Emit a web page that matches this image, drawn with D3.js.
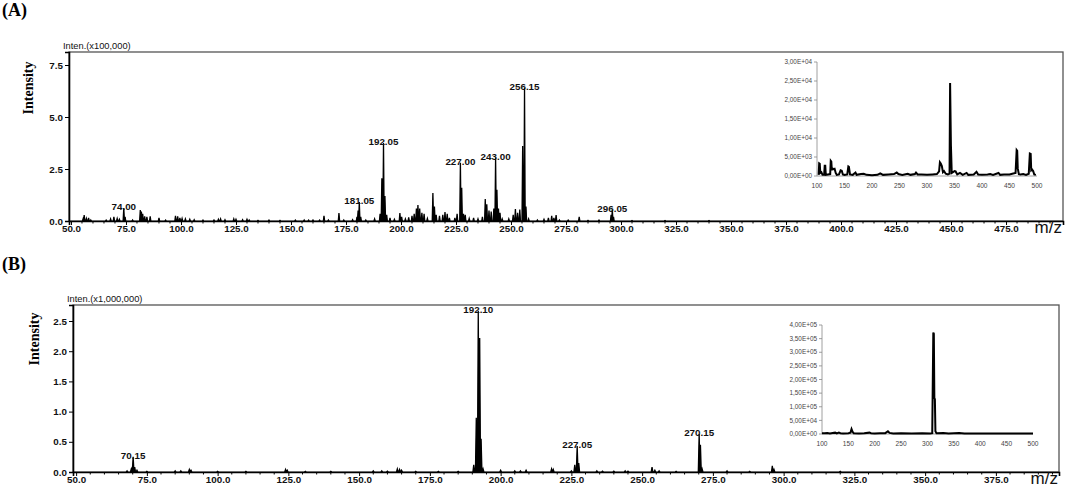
<!DOCTYPE html>
<html><head><meta charset="utf-8">
<script src="https://cdn.jsdelivr.net/npm/d3@7"></script>
<style>
html,body{margin:0;padding:0;background:#fff;}
svg text{font-family:"Liberation Sans",Arial,sans-serif;}
</style></head>
<body>
<svg id="c" width="1065" height="488"></svg>
<script>
// ---------- DATA ----------
// Panel A main spectrum: [m/z, intensity (x100,000)]
const peaksA = [
[55.5,0.1],[56,0.29],[57,0.12],[58,0.15],[59,0.05],[66,0.04],[68,0.1],[69.5,0.2],[71,0.12],[72,0.08],
[74,0.62],[74.6,0.2],[78,0.05],[81.5,0.53],[82,0.45],[82.6,0.35],[83.5,0.22],[84.5,0.2],[86,0.22],[90,0.15],
[93,0.04],[97.5,0.25],[98.5,0.22],[99.5,0.15],[100.5,0.12],[102,0.1],[104,0.08],[106,0.06],[110,0.04],[115,0.05],
[117,0.08],[118,0.1],[120,0.06],[124,0.1],[125,0.08],[128,0.06],[130,0.08],[131,0.05],[135,0.03],[140,0.04],
[145,0.03],[152,0.04],[156,0.05],[158,0.04],[160,0.05],[163,0.04],[165,0.25],[167,0.05],[171.8,0.38],[174,0.05],
[178,0.06],[180,0.2],[180.5,0.5],[181.05,0.91],[181.7,0.2],[184,0.05],[188,0.1],[190.5,0.35],[191.3,2.05],[192.05,3.75],
[192.7,1.2],[193.5,0.3],[195,0.15],[197,0.08],[199.5,0.38],[200.3,0.2],[202,0.1],[203.5,0.18],[205,0.25],[206,0.35],
[207,0.6],[207.7,0.77],[208.5,0.6],[209.5,0.4],[210.5,0.35],[212,0.12],[214.5,1.35],[215.2,0.7],[216,0.3],[217.5,0.25],
[219,0.3],[220,0.43],[221,0.35],[222,0.15],[224.5,0.15],[225.5,0.35],[227.0,2.8],[227.6,1.6],[228.4,0.35],[229.2,0.3],
[231,0.12],[233,0.15],[235,0.1],[237,0.2],[238.3,1.06],[239,0.8],[240,0.5],[241,0.45],[242.2,0.6],[243.0,3.05],
[243.6,1.5],[244.3,0.6],[245,0.4],[246,0.1],[249,0.1],[251,0.3],[252,0.58],[253,0.4],[254,0.55],[255.3,3.6],
[256.15,6.39],[256.8,0.7],[258,0.1],[262,0.05],[265,0.08],[267,0.15],[268.5,0.25],[269.5,0.15],[270.5,0.28],[272,0.05],
[276,0.04],[281,0.2],[285,0.03],[290,0.04],[295.5,0.3],[296.05,0.55],[296.6,0.2],[305,0.02],[320,0.02],[340,0.02]
];
const labelsA = [74.00, 181.05, 192.05, 227.00, 243.00, 256.15, 296.05];
const xTicksA = [50,75,100,125,150,175,200,225,250,275,300,325,350,375,400,425,450,475];
const yTicksA = [0, 2.5, 5.0, 7.5];

// Panel B main spectrum: [m/z, intensity (x1,000,000)]
const peaksB = [
[68,0.02],[69.5,0.05],[70.15,0.25],[70.7,0.08],[71.5,0.03],[75,0.01],[85,0.02],[87,0.02],[90,0.04],[90.6,0.03],
[100,0.01],[110,0.01],[124,0.04],[124.6,0.03],[131,0.01],[140,0.01],[155,0.02],[158,0.02],[160,0.015],[163.5,0.05],
[164.3,0.04],[165,0.03],[170,0.01],[178,0.01],[185,0.01],[190.5,0.12],[191.4,0.9],[192.10,2.67],[192.6,2.22],[193.1,0.55],
[193.8,0.05],[200,0.03],[205,0.02],[207,0.02],[209,0.03],[218,0.05],[218.6,0.04],[225,0.02],[226.2,0.12],[227.05,0.43],
[227.6,0.15],[234,0.02],[236,0.015],[240,0.015],[244,0.02],[245,0.015],[253.5,0.08],[254.5,0.03],[256,0.02],[262,0.01],
[270.15,0.63],[270.6,0.45],[271.2,0.05],[280,0.02],[288,0.01],[296,0.1],[296.6,0.04],[320,0.01]
];
const labelsB = [70.15, 192.10, 227.05, 270.15];
const xTicksB = [50,75,100,125,150,175,200,225,250,275,300,325,350,375];
const yTicksB = [0, 0.5, 1.0, 1.5, 2.0, 2.5];

// Inset A: [m/z, counts]
const insetA = [
[103,300],[104,3300],[105,3200],[106,800],[108,1000],[110,300],[113,300],[114,2700],[115,2700],[116,300],
[120,400],[124,500],[125,4000],[126,3800],[127,1500],[128,2000],[130,1800],[132,1900],[134,800],[136,300],
[140,400],[143,1500],[145,1400],[147,400],[150,300],[155,400],[157,2500],[158,2400],[160,400],[165,300],
[170,900],[172,300],[180,500],[185,600],[190,300],[200,200],[210,300],[215,700],[220,300],[230,400],
[240,500],[245,900],[248,500],[255,300],[265,600],[270,300],[278,500],[280,900],[283,400],[290,400],
[300,300],[310,400],[318,500],[322,1200],[323.5,3600],[325,3300],[327,2600],[329,1000],[331,1300],[334,600],
[338,400],[341,600],[342,24500],[343.5,8000],[345,800],[350,1300],[352,1200],[355,400],[360,800],[365,300],
[372,800],[375,300],[385,400],[390,1100],[393,400],[400,300],[410,400],[415,500],[420,300],[430,800],
[433,300],[440,400],[450,400],[455,600],[461,800],[463,6800],[464,6600],[465,2000],[467,500],[470,400],
[475,500],[480,300],[485,600],[487,5900],[488.5,5800],[489.5,1500],[491,1700],[493,1300],[495,400],[498,300]
];
const insetAxTicks = [100,150,200,250,300,350,400,450,500];
const insetAyTicks = [0,5000,10000,15000,20000,25000,30000];
const insetAyLabels = ["0,00E+00","5,00E+03","1,00E+04","1,50E+04","2,00E+04","2,50E+04","3,00E+04"];

// Inset B: [m/z, counts]
const insetB = [
[100,3000],[105,3000],[110,4000],[115,2000],[120,4000],[125,5000],[128,2000],[132,5000],[135,3000],[140,2000],
[150,3000],[154,5000],[156,18000],[158,8000],[160,3000],[170,2000],[180,3000],[190,5000],[193,3000],[200,2000],
[210,3000],[220,3000],[225,10000],[228,4000],[235,2000],[250,3000],[270,2000],[290,3000],[305,2000],[309,3000],
[311,372000],[312,368000],[313,132000],[314,128000],[315,10000],[317,3000],[330,4000],[340,2000],[350,3000],[360,4000],
[370,2000],[400,2000],[450,2000],[500,2000]
];
const insetBxTicks = [100,150,200,250,300,350,400,450,500];
const insetByTicks = [0,50000,100000,150000,200000,250000,300000,350000,400000];
const insetByLabels = ["0,00E+00","5,00E+04","1,00E+05","1,50E+05","2,00E+05","2,50E+05","3,00E+05","3,50E+05","4,00E+05"];

// ---------- DRAW ----------
const svg = d3.select("#c");

function panel(o){
  const g = svg.append("g");
  const x = d3.scaleLinear().domain(o.xDom).range([o.left, o.right]);
  const y = d3.scaleLinear().domain(o.yDom).range([o.bottom, o.top]);

  // frame
  g.append("rect").attr("x",o.left).attr("y",o.top).attr("width",o.right-o.left).attr("height",o.bottom-o.top)
    .attr("fill","none").attr("stroke","#555").attr("stroke-width",1.3);

  // spectrum as stick/peak profile
  const hw = 0.3;
  const sorted = o.peaks.slice().sort((a,b)=>a[0]-b[0]);
  let d = "";
  sorted.forEach(p=>{
    d += `M${x(p[0]-hw)},${y(0)}L${x(p[0])},${y(p[1])}L${x(p[0]+hw)},${y(0)}`;
  });
  g.append("path").attr("d",d).attr("fill","#000").attr("stroke","#000").attr("stroke-width",1.3)
    .attr("stroke-linejoin","miter");

  // x axis
  const xAxis = d3.axisBottom(x).tickValues(o.xTicks).tickSize(4).tickFormat(d3.format(".1f"));
  const ax = g.append("g").attr("transform",`translate(0,${o.bottom})`).call(xAxis);
  ax.select(".domain").attr("stroke","#000").attr("stroke-width",1.6);
  ax.selectAll("text").attr("font-size","9.8px").attr("font-weight","bold").attr("fill","#111")
    .attr("y",4.5).attr("dy","0.71em");
  // minor x ticks
  const minors = d3.range(50, o.xDom[1], 5).filter(v=>v%25!==0);
  g.append("g").selectAll("line").data(minors).join("line")
    .attr("x1",v=>x(v)).attr("x2",v=>x(v)).attr("y1",o.bottom).attr("y2",o.bottom+2.5)
    .attr("stroke","#000").attr("stroke-width",1);

  // y axis
  const yAxis = d3.axisLeft(y).tickValues(o.yTicks).tickSize(4).tickFormat(d3.format(".1f"));
  const ay = g.append("g").attr("transform",`translate(${o.left},0)`).call(yAxis);
  ay.select(".domain").attr("stroke","#000").attr("stroke-width",1.6);
  ay.selectAll("text").attr("font-size","9.8px").attr("font-weight","bold").attr("fill","#111").attr("dx","0.1em");

  // peak labels
  g.append("g").selectAll("text").data(o.labels).join("text")
    .attr("x",m=>x(m)).attr("y",m=>{const p=o.peaks.find(q=>Math.abs(q[0]-m)<1e-6); return y(p[1])+2;})
    .attr("text-anchor","middle").attr("font-size","9.8px").attr("font-weight","bold").attr("fill","#111")
    .text(m=>m.toFixed(2));

  // inten label
  g.append("text").attr("x",o.left-6).attr("y",o.top-3).attr("font-size","9.3px").attr("fill","#111").text(o.intenLabel);
  // m/z
  g.append("text").attr("x",o.right-1).attr("y",o.bottom+12).attr("text-anchor","end").attr("font-size","17px")
    .attr("fill","#111").text("m/z");
  // Intensity title
  g.append("text").attr("transform",`translate(${o.titleX},${(o.titleY)}) rotate(-90)`).attr("text-anchor","middle")
    .style("font-family","'Liberation Serif','Times New Roman',serif").attr("font-weight","bold").attr("font-size","14px")
    .text("Intensity");
  // panel letter
  g.append("text").attr("x",2).attr("y",o.letterY)
    .style("font-family","'Liberation Serif','Times New Roman',serif").attr("font-weight","bold").attr("font-size","18px")
    .text(o.letter);

  // inset
  const I = o.inset;
  const ix = d3.scaleLinear().domain([100,500]).range([I.left, I.right]);
  const iy = d3.scaleLinear().domain([0, I.yMax]).range([I.bottom, I.top]);
  const ig = g.append("g");
  ig.append("line").attr("x1",I.left).attr("x2",I.left).attr("y1",I.top).attr("y2",I.bottom).attr("stroke","#888").attr("stroke-width",0.8);
  ig.append("line").attr("x1",I.left).attr("x2",I.right).attr("y1",I.bottom).attr("y2",I.bottom).attr("stroke","#888").attr("stroke-width",0.8);
  ig.selectAll("line.yt").data(I.yTicks).join("line").attr("class","yt")
    .attr("x1",I.left-3).attr("x2",I.left).attr("y1",v=>iy(v)).attr("y2",v=>iy(v)).attr("stroke","#888").attr("stroke-width",0.8);
  ig.selectAll("text.yl").data(I.yTicks).join("text").attr("class","yl")
    .attr("x",I.left-5).attr("y",v=>iy(v)).attr("dy","0.35em").attr("text-anchor","end")
    .attr("font-size","6.4px").attr("fill","#444").text((v,i)=>I.yLabels[i]);
  ig.selectAll("text.xl").data(I.xTicks).join("text").attr("class","xl")
    .attr("x",v=>ix(v)).attr("y",I.bottom+12).attr("text-anchor","middle")
    .attr("font-size","6.6px").attr("fill","#444").text(v=>v);
  const line = d3.line().x(p=>ix(p[0])).y(p=>iy(p[1]));
  ig.append("path").datum(I.data).attr("d",line).attr("fill","none").attr("stroke","#000").attr("stroke-width",2)
    .attr("stroke-linejoin","miter");
}

panel({
  left:69, right:1063, top:52, bottom:221,
  xDom:[49.1, 500.9], yDom:[0, 8.125],
  peaks:peaksA, labels:labelsA, xTicks:xTicksA, yTicks:yTicksA,
  intenLabel:"Inten.(x100,000)", titleX:33, titleY:88, letter:"(A)", letterY:16,
  inset:{left:817, right:1037, top:62, bottom:176, yMax:30000, data:insetA,
         xTicks:insetAxTicks, yTicks:insetAyTicks, yLabels:insetAyLabels}
});
panel({
  left:73, right:1059, top:305, bottom:472,
  xDom:[48.9, 397.3], yDom:[0, 2.765],
  peaks:peaksB, labels:labelsB, xTicks:xTicksB, yTicks:yTicksB,
  intenLabel:"Inten.(x1,000,000)", titleX:39, titleY:339, letter:"(B)", letterY:270,
  inset:{left:822, right:1033, top:325, bottom:434, yMax:400000, data:insetB,
         xTicks:insetBxTicks, yTicks:insetByTicks, yLabels:insetByLabels}
});
</script>
</body></html>
